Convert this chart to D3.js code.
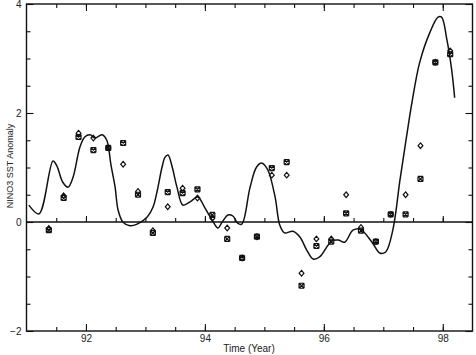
<!DOCTYPE html>
<html><head><meta charset="utf-8">
<script src="https://cdn.jsdelivr.net/npm/d3@7"></script>
<style>body{margin:0;background:#fff}svg{display:block}</style>
</head><body>
<script>
// Model curve (NINO3 SST anomaly)
const lineYears = [91.04,91.21,91.445,91.51,91.61,91.70,91.78,91.90,91.98,92.07,92.15,92.27,92.35,92.42,92.49,92.54,92.62,92.74,92.86,93.03,93.13,93.19,93.28,93.33,93.38,93.45,93.53,93.63,93.75,93.88,94.00,94.12,94.22,94.29,94.39,94.47,94.55,94.62,94.76,94.87,94.96,95.06,95.18,95.26,95.34,95.48,95.60,95.71,95.82,95.93,96.13,96.24,96.35,96.49,96.61,96.81,96.94,97.04,97.16,97.28,97.39,97.48,97.61,97.78,97.92,97.98,98.07,98.15,98.20];
const lineValues = [0.31,0.15,1.12,1.03,0.73,0.64,0.81,1.38,1.56,1.60,1.54,1.60,1.50,1.05,0.64,0.22,0.00,-0.07,-0.04,0.09,0.28,0.53,1.01,1.19,1.23,1.01,0.64,0.31,0.37,0.46,0.26,0.04,-0.11,0.00,0.13,0.11,-0.02,-0.04,0.64,1.01,1.08,0.95,0.46,-0.06,-0.20,-0.17,-0.28,-0.51,-0.68,-0.64,-0.35,-0.33,-0.37,-0.15,-0.13,-0.37,-0.57,-0.55,-0.15,0.77,1.56,2.18,2.92,3.47,3.76,3.76,3.34,2.79,2.28];

// Quarterly observations
const obsYears = [91.375,91.625,91.875,92.125,92.375,92.625,92.875,93.125,93.375,93.625,93.875,94.125,94.375,94.625,94.875,95.125,95.375,95.625,95.875,96.125,96.375,96.625,96.875,97.125,97.375,97.625,97.875,98.125];
const starValues = [-0.15,0.44,1.56,1.32,1.36,1.45,0.50,-0.20,0.55,0.53,0.60,0.13,-0.31,-0.66,-0.27,0.99,1.10,-1.17,-0.44,-0.36,0.16,-0.16,-0.36,0.14,0.14,0.79,2.93,3.08];
const diamondValues = [-0.12,0.48,1.63,1.54,1.36,1.06,0.56,-0.16,0.28,0.62,0.44,0.07,-0.11,-0.66,-0.27,0.86,0.86,-0.94,-0.31,-0.31,0.50,-0.10,-0.36,0.14,0.50,1.40,2.93,3.14];

const xMajorTicks = [92,94,96,98];
const xMinorTicks = [91.5,92,92.5,93,93.5,94,94.5,95,95.5,96,96.5,97,97.5,98];
const yMajorTicks = [-2,0,2,4];
const yMinorTicks = [-1.5,-1,-0.5,0.5,1,1.5,2.5,3,3.5];
const xLabel = "Time (Year)";
const yLabel = "NINO3 SST Anomaly";

const W = 476, H = 355;
const svg = d3.select("body").append("svg").attr("width", W).attr("height", H);
const x = d3.scaleLinear().domain([91, 98.5]).range([26.5, 472.5]);
const y = d3.scaleLinear().domain([-2, 4]).range([331, 4]);
const font = "'Liberation Sans', Arial, sans-serif";

function styleAxis(g){
  g.select(".domain").remove();
  g.selectAll("line").attr("stroke","#111").attr("stroke-width",1.1);
  g.selectAll("text").attr("font-family",font).attr("font-size",10).attr("fill","#222");
}
// bottom
svg.append("g").attr("transform",`translate(0,${y(-2)})`)
  .call(d3.axisBottom(x).tickValues(xMinorTicks).tickSize(-4).tickFormat("")).call(styleAxis);
svg.append("g").attr("transform",`translate(0,${y(-2)})`)
  .call(d3.axisBottom(x).tickValues(xMajorTicks).tickSize(-7).tickPadding(4).tickFormat(d3.format("d"))).call(styleAxis);
// top
svg.append("g").attr("transform",`translate(0,${y(4)})`)
  .call(d3.axisTop(x).tickValues(xMinorTicks).tickSize(-4).tickFormat("")).call(styleAxis);
svg.append("g").attr("transform",`translate(0,${y(4)})`)
  .call(d3.axisTop(x).tickValues(xMajorTicks).tickSize(-7).tickFormat("")).call(styleAxis);
// left
svg.append("g").attr("transform",`translate(${x(91)},0)`)
  .call(d3.axisLeft(y).tickValues(yMinorTicks).tickSize(-4).tickFormat("")).call(styleAxis);
svg.append("g").attr("transform",`translate(${x(91)},0)`)
  .call(d3.axisLeft(y).tickValues(yMajorTicks).tickSize(-7).tickPadding(5).tickFormat(d=> d<0 ? "\u2212"+Math.abs(d) : d)).call(styleAxis);
// right
svg.append("g").attr("transform",`translate(${x(98.5)},0)`)
  .call(d3.axisRight(y).tickValues(yMinorTicks).tickSize(-4).tickFormat("")).call(styleAxis);
svg.append("g").attr("transform",`translate(${x(98.5)},0)`)
  .call(d3.axisRight(y).tickValues(yMajorTicks).tickSize(-7).tickFormat("")).call(styleAxis);
// zero line with upward ticks
svg.append("g").attr("transform",`translate(0,${y(0)})`)
  .call(d3.axisTop(x).tickValues(xMinorTicks).tickSize(4).tickFormat("")).call(styleAxis);
svg.append("g").attr("transform",`translate(0,${y(0)})`)
  .call(d3.axisTop(x).tickValues(xMajorTicks).tickSize(6).tickFormat("")).call(styleAxis);
svg.append("line").attr("x1",x(91)).attr("x2",x(98.5)).attr("y1",y(0)).attr("y2",y(0))
  .attr("stroke","#111").attr("stroke-width",1.4);

// frame
svg.append("rect").attr("x",x(91)).attr("y",y(4)).attr("width",x(98.5)-x(91)).attr("height",y(-2)-y(4))
  .attr("fill","none").attr("stroke","#111").attr("stroke-width",1.4);

// curve
const lineData = lineYears.map((t,i)=>[t,lineValues[i]]);
svg.append("path").datum(lineData)
  .attr("d", d3.line().x(d=>x(d[0])).y(d=>y(d[1])).curve(d3.curveCatmullRom.alpha(0.5)))
  .attr("fill","none").attr("stroke","#111").attr("stroke-width",1.5).attr("stroke-linejoin","round");

// star (boxed X) markers
const starData = obsYears.map((t,i)=>[t,starValues[i]]);
svg.append("g").selectAll("path").data(starData).join("path")
  .attr("transform",d=>`translate(${x(d[0])},${y(d[1])})`)
  .attr("d","M-2.5,-2.5L2.5,2.5 M2.5,-2.5L-2.5,2.5 M-2.5,-2.5L2.5,-2.5 M-2.5,2.5L2.5,2.5 M-2.5,-2.5L-2.5,2.5 M2.5,-2.5L2.5,2.5")
  .attr("fill","none").attr("stroke","#111").attr("stroke-width",1.2);

// diamond markers
const diaData = obsYears.map((t,i)=>[t,diamondValues[i]]);
svg.append("g").selectAll("path").data(diaData).join("path")
  .attr("transform",d=>`translate(${x(d[0])},${y(d[1])})`)
  .attr("d","M0,-2.8L2.4,0L0,2.8L-2.4,0Z")
  .attr("fill","none").attr("stroke","#111").attr("stroke-width",1.2);

// axis titles
svg.append("text").attr("x",249).attr("y",352).attr("text-anchor","middle")
  .attr("font-family",font).attr("font-size",10).attr("fill","#222").text(xLabel);
svg.append("text").attr("transform",`translate(13,166) rotate(-90)`).attr("text-anchor","middle")
  .attr("font-family",font).attr("font-size",9).attr("fill","#222").text(yLabel);
</script>
</body></html>
